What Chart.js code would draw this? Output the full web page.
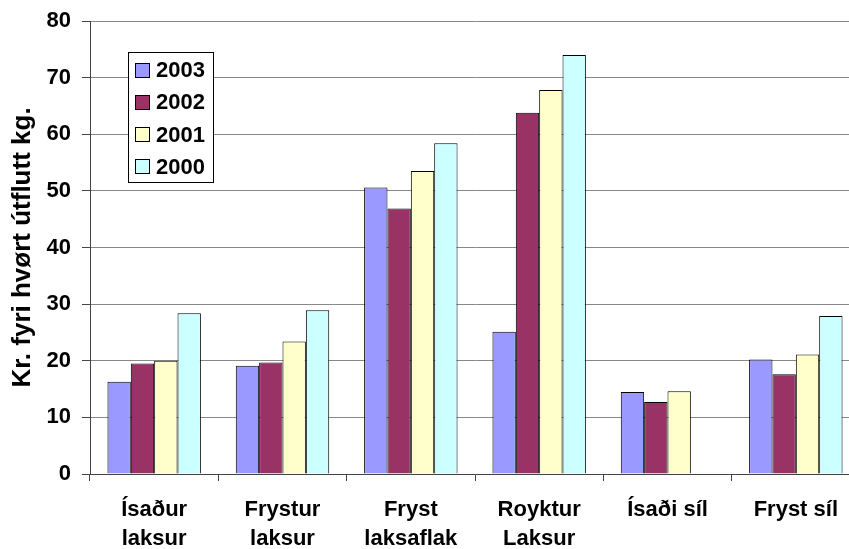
<!DOCTYPE html>
<html>
<head>
<meta charset="utf-8">
<script src="https://cdn.jsdelivr.net/npm/chart.js@4"></script>
<style>
html,body{margin:0;padding:0;background:#fff;overflow:hidden;width:849px;height:549px;}
#wrap{width:860px;height:549px;}
</style>
</head>
<body>
<div id="wrap"><canvas id="c" width="860" height="549"></canvas></div>
<script>
const categories = [["Ísaður","laksur"],["Frystur","laksur"],["Fryst","laksaflak"],["Royktur","Laksur"],["Ísaði síl"],["Fryst síl"]];
const seriesNames = ["2003","2002","2001","2000"];
const v2003 = [16.3, 19.1, 50.6, 25.1, 14.5, 20.2];
const v2002 = [19.5, 19.7, 46.9, 63.8, 12.7, 17.6];
const v2001 = [20.0, 23.4, 53.5, 67.8, 14.6, 21.1];
const v2000 = [28.4, 28.9, 58.4, 74.0, null, 27.9];
const yTicks = [0,10,20,30,40,50,60,70,80];
const yTitle = "Kr. fyri hvørt útflutt kg.";
const colors = ["#9999FF","#993366","#FFFFCC","#CCFFFF"];

const values = [v2003, v2002, v2001, v2000];
const FONT = "'Liberation Sans', Arial, sans-serif";

const legendPlugin = {
  id: 'boxLegend',
  afterDraw(chart) {
    const ctx = chart.ctx;
    const x0 = 128.5, y0 = 52.5, w = 85, h = 130;
    ctx.save();
    ctx.fillStyle = '#fff';
    ctx.fillRect(x0, y0, w, h);
    ctx.strokeStyle = '#000';
    ctx.lineWidth = 1;
    ctx.strokeRect(x0, y0, w, h);
    ctx.font = "bold 22px " + FONT;
    ctx.textBaseline = 'middle';
    ctx.textAlign = 'left';
    chart.data.datasets.forEach((ds, i) => {
      const cy = 70 + i * 32.3;
      ctx.fillStyle = ds.backgroundColor;
      ctx.fillRect(135.5, Math.round(cy - 7.5) + 0.5, 14, 14);
      ctx.strokeStyle = '#000';
      ctx.strokeRect(135.5, Math.round(cy - 7.5) + 0.5, 14, 14);
      ctx.fillStyle = '#000';
      ctx.fillText(ds.label, 156, cy + 1);
    });
    ctx.restore();
  }
};

new Chart(document.getElementById('c'), {
  type: 'bar',
  data: {
    labels: categories,
    datasets: seriesNames.map((n, i) => ({
      label: n,
      data: values[i],
      backgroundColor: colors[i],
      borderColor: '#000',
      borderWidth: 1,
      categoryPercentage: 0.728,
      barPercentage: 1
    }))
  },
  options: {
    responsive: false,
    animation: false,
    devicePixelRatio: 1,
    layout: { padding: { top: 21, left: 0, right: 0, bottom: 0 } },
    plugins: { legend: { display: false }, tooltip: { enabled: false } },
    scales: {
      x: {
        grid: { display: true, drawOnChartArea: false, offset: true, tickLength: 7, color: '#444', tickColor: '#444' },
        border: { color: '#444', width: 1 },
        ticks: { color: '#000', font: { family: FONT, size: 22, weight: 'bold', lineHeight: 1.34 }, padding: 14, maxRotation: 0, autoSkip: false },
        afterFit(scale) { scale.height = 75; }
      },
      y: {
        min: 0, max: 80,
        afterBuildTicks(scale) { scale.ticks = yTicks.map(v => ({ value: v })); },
        grid: { color: '#888', lineWidth: 1, tickLength: 8, tickColor: '#444' },
        border: { color: '#444', width: 1 },
        ticks: { color: '#000', font: { family: FONT, size: 22, weight: 'bold', lineHeight: 0.8 }, padding: 11 },
        title: { display: true, text: yTitle, color: '#000', font: { family: FONT, size: 26, weight: 'bold' }, padding: { top: 7, bottom: 0 } },
        afterFit(scale) { scale.width = 90; }
      }
    }
  },
  plugins: [legendPlugin]
});
</script>
</body>
</html>
